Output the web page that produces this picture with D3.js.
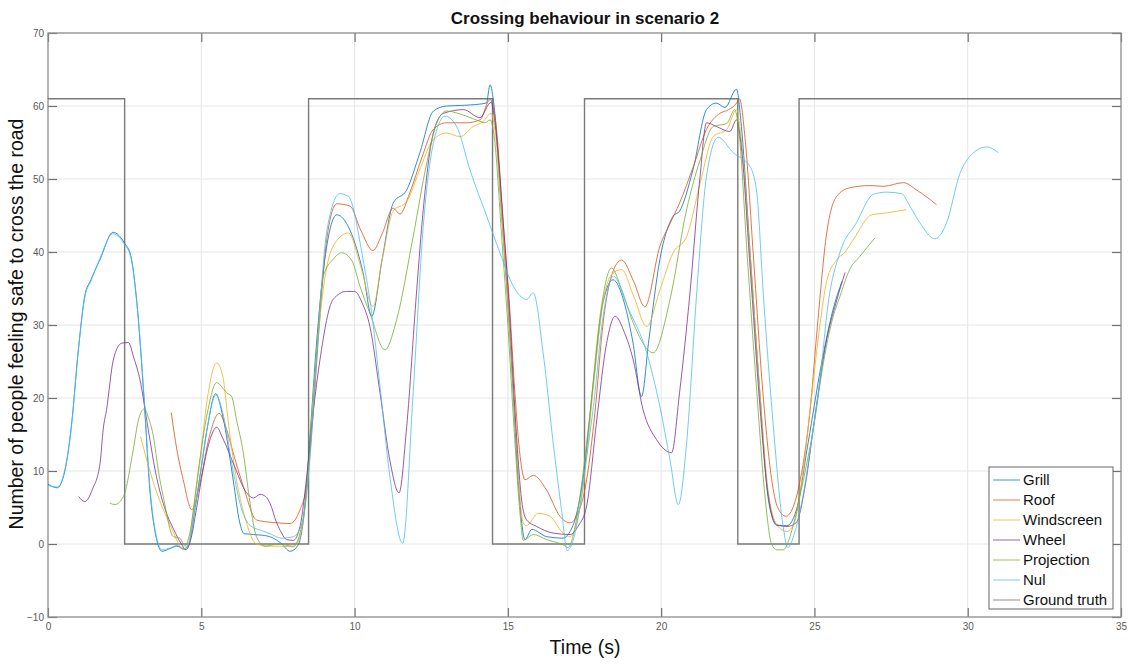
<!DOCTYPE html>
<html>
<head>
<meta charset="utf-8">
<script src="https://cdn.jsdelivr.net/npm/d3@7"></script>
<style>
  body { margin: 0; background: #fff; }
  svg { display: block; font-family: "Liberation Sans", Arial, Helvetica, sans-serif; }
</style>
</head>
<body>
<div id="chart"></div>
<script>
// series, [time (s), people]
const grill = [[0,8.2],[0.3,7.7],[0.55,10],[0.75,15.7],[1.0,27],[1.2,34],[1.4,36.2],[1.7,39],[2.12,42.7],[2.5,41.2],[2.7,39.5],[2.9,33],[3.13,20],[3.33,7],[3.5,1.5],[3.72,-1],[4.0,-0.6],[4.2,-0.3],[4.45,-0.7],[4.6,0],[4.8,5],[5.0,10.5],[5.2,16],[5.47,20.6],[5.7,17.5],[6.04,8.8],[6.25,3],[6.4,1.4],[7.0,1.2],[7.3,0.9],[7.6,0.1],[7.9,-1],[8.15,-0.2],[8.35,4],[8.55,15],[8.75,27],[9.0,38],[9.42,45.1],[9.85,43],[10.28,37.1],[10.56,31.2],[10.9,39],[11.26,46.7],[11.7,48.5],[12.13,53.6],[12.57,59.3],[13.0,60],[13.6,60.1],[14.3,60.4],[14.42,62.9],[14.55,60],[14.8,45],[15.0,33],[15.17,21],[15.35,8],[15.56,0.6],[15.78,2],[16.27,1],[16.8,0.8],[17.0,1.5],[17.2,3.5],[17.45,8.8],[17.8,22.5],[18.1,33],[18.43,36.2],[18.8,33],[19.08,27.6],[19.36,20.2],[19.6,28],[19.96,39],[20.39,44.9],[20.6,45.6],[21.04,51.3],[21.48,59.5],[21.8,60.4],[22.08,59.8],[22.46,62.3],[22.6,58],[22.9,40],[23.22,20.7],[23.5,6],[23.77,2.6],[24.1,2.5],[24.4,4.5],[24.8,14],[25.2,24],[25.6,32],[25.9,36]];

const roof = [[4.02,18],[4.2,13],[4.41,8.8],[4.69,4.7],[4.96,8.4],[5.25,14.5],[5.58,17.9],[5.8,16],[6.04,12.5],[6.37,7.9],[6.8,3.3],[7.2,3],[7.5,2.9],[7.9,2.8],[8.22,4.7],[8.44,8],[8.65,18],[8.85,30],[9.1,42],[9.42,46.6],[9.85,46.3],[10.2,43],[10.6,40.2],[10.9,42.5],[11.26,46],[11.48,45.2],[11.8,48.1],[12.2,53],[12.57,56.8],[13.0,57.7],[13.65,57.7],[14.09,58.1],[14.42,60.9],[14.6,58],[14.85,44],[15.05,33],[15.23,20.7],[15.4,12],[15.56,8.8],[15.83,9.4],[16.26,7.4],[16.7,3.8],[17.03,2.9],[17.24,3.8],[17.57,8.8],[17.84,18],[18.1,30],[18.4,37],[18.71,38.9],[19.1,36],[19.47,32.5],[19.96,40.8],[20.29,43.9],[20.6,46.7],[21.05,51.7],[21.48,56.8],[21.92,59],[22.2,59.5],[22.46,60.4],[22.55,61],[22.75,55],[23.0,40],[23.32,20.7],[23.6,9],[23.8,5],[24.07,3.8],[24.3,5],[24.52,8.4],[24.85,18],[25.1,30],[25.4,42.6],[25.72,47.6],[26.15,48.8],[26.8,49.1],[27.25,49],[27.9,49.5],[28.33,48.5],[28.98,46.5]];

const windscreen = [[3.02,14.7],[3.44,8.4],[3.76,4.7],[3.88,3.6],[4.1,1.5],[4.41,-0.8],[4.55,-0.5],[4.75,5],[4.95,11],[5.2,20],[5.5,24.8],[5.7,23],[5.9,16],[6.15,8.8],[6.4,4],[6.8,0],[7.2,-0.3],[7.6,-0.3],[8.0,-0.4],[8.25,1.5],[8.45,8],[8.65,20],[8.95,34],[9.3,40.8],[9.8,42.6],[10.2,38],[10.6,32.5],[10.9,39],[11.26,45.6],[11.7,46.9],[12.1,51],[12.57,55.4],[13.0,56.3],[13.44,55.8],[13.87,57.2],[14.2,57.9],[14.45,59],[14.6,56],[14.85,42],[15.05,30],[15.25,16],[15.4,6],[15.5,2.9],[15.6,2.5],[15.99,4.2],[16.37,3.8],[16.8,1.5],[17.03,1],[17.25,3],[17.46,7.9],[17.8,22],[18.1,33],[18.4,37],[18.71,37.6],[19.1,34],[19.53,29.8],[19.96,34.8],[20.39,39.9],[20.83,42.1],[21.27,49.4],[21.7,55.8],[22.14,56.8],[22.46,59.5],[22.6,56],[22.9,40],[23.2,22],[23.5,7],[23.8,2.5],[24.1,1.7],[24.35,3],[24.63,10],[24.9,20],[25.18,30],[25.4,36],[25.72,38.9],[26.0,40],[26.27,41.7],[26.87,45.1],[27.25,45.3],[28.0,45.8]];

const wheel = [[1.0,6.5],[1.2,5.8],[1.45,7.5],[1.7,11.1],[1.8,15.7],[1.91,18.4],[2.13,25.2],[2.4,27.5],[2.62,27.6],[2.8,25.5],[3.0,22.5],[3.27,15.7],[3.5,10],[3.8,5],[4.1,2],[4.35,0],[4.5,-0.8],[4.65,0.5],[4.85,5],[5.05,10],[5.3,14.5],[5.5,16],[5.7,14.5],[6.04,11.1],[6.48,7],[6.7,6.3],[6.92,6.8],[7.1,6.5],[7.24,5.6],[7.45,3],[7.62,1.5],[7.78,0.6],[8.0,0.5],[8.22,2.4],[8.44,9.3],[8.65,18],[8.87,25.2],[9.3,33.5],[9.74,34.6],[10.0,34.6],[10.25,33],[10.5,29.8],[10.83,20.7],[11.15,11.5],[11.45,7],[11.7,16.1],[12.02,34.4],[12.24,45.8],[12.57,56.3],[12.9,59],[13.55,59.5],[14.09,58.4],[14.45,60.5],[14.6,57],[14.85,44],[15.05,32],[15.25,17],[15.45,6],[15.61,3.3],[15.94,2.4],[16.47,1.5],[17.03,1.3],[17.3,2.5],[17.57,5.2],[17.9,17],[18.2,27],[18.5,31.2],[18.8,29],[19.09,25.2],[19.41,18.4],[19.85,14.3],[20.34,12.5],[20.6,20.7],[20.94,34.4],[21.27,50.4],[21.48,57.7],[21.8,57.2],[22.24,56.5],[22.46,58.1],[22.6,55],[22.9,38],[23.2,20],[23.45,8],[23.77,2.6],[24.1,2.4],[24.4,2.9],[24.7,8],[25.0,17],[25.4,28],[25.7,33],[26.0,37.2]];

const projection = [[2.02,5.6],[2.18,5.4],[2.46,6.5],[2.78,12.9],[2.95,17],[3.14,18.5],[3.3,17],[3.44,14.7],[3.6,10],[3.76,6.5],[4.09,1],[4.3,0.8],[4.47,-0.3],[4.65,2],[4.9,10],[5.2,18],[5.5,22.1],[5.83,20.7],[5.99,20.2],[6.15,17],[6.37,12.5],[6.59,5.6],[6.8,1],[7.08,-0.3],[7.5,0],[8.0,-0.3],[8.25,2],[8.45,8],[8.65,19],[8.98,36.7],[9.3,39],[9.58,39.9],[9.9,38.9],[10.2,35],[10.5,31.6],[10.99,26.6],[11.37,30.7],[11.91,42.1],[12.35,52.1],[12.68,57.7],[13.0,59.3],[13.65,58.6],[14.09,57.9],[14.25,57.7],[14.42,58.1],[14.55,56],[14.8,42],[15.0,30],[15.2,16],[15.4,4],[15.5,0.5],[15.83,1.3],[16.26,0.6],[16.8,-0.1],[16.97,-0.5],[17.15,1.5],[17.35,6.5],[17.68,18],[18.0,31],[18.38,37.8],[18.7,35],[19.09,30.3],[19.74,26.2],[20.29,33.5],[20.83,45.8],[21.27,52.6],[21.7,57.2],[22.14,57.6],[22.4,59.5],[22.55,56],[22.8,40],[23.1,22],[23.4,6],[23.6,0],[23.77,-0.8],[23.98,-0.8],[24.3,2.4],[24.6,8],[24.96,15.7],[25.3,25],[25.6,31],[25.83,33.9],[26.15,37.6],[26.48,39.4],[26.97,41.9]];

const nul = [[0,8.0],[0.3,7.8],[0.55,10.2],[0.75,15.5],[1.0,27],[1.2,33.8],[1.4,36],[1.7,39.2],[2.12,42.5],[2.5,41],[2.7,39.3],[2.9,33],[3.13,20.5],[3.33,7.5],[3.5,1.8],[3.72,-0.8],[4.0,-0.5],[4.2,-0.2],[4.45,-0.6],[4.6,0.2],[4.8,5.2],[5.0,10.5],[5.2,16],[5.47,20.4],[5.7,18],[6.04,10],[6.3,5],[6.6,2.5],[7.0,1.8],[7.3,1.3],[7.6,0.8],[8.0,1.0],[8.3,3],[8.55,12],[8.8,28],[9.1,43],[9.52,48],[9.8,47.6],[10.28,38.9],[10.56,31.6],[10.83,21.6],[11.15,9.3],[11.57,0.1],[11.91,20.7],[12.24,43.5],[12.57,54.9],[12.95,58.6],[13.33,57.2],[13.76,51.3],[14.31,44.9],[14.74,39.9],[15.18,35.3],[15.61,33.5],[15.83,34.4],[16.15,26.2],[16.48,13.8],[16.75,4.7],[16.94,-0.9],[17.24,2.4],[17.57,12],[17.79,18.8],[18.1,31],[18.44,36.7],[18.9,32.5],[19.53,26.2],[19.96,18.8],[20.29,11.5],[20.56,5.4],[20.83,13.8],[21.16,34.4],[21.48,50.4],[21.86,55.7],[22.35,53.6],[22.9,51.7],[23.12,48.1],[23.33,34.4],[23.66,16.1],[23.98,2.4],[24.13,-0.5],[24.35,1.5],[24.6,6],[24.9,14],[25.18,22.5],[25.45,33],[25.83,39.9],[26.37,44],[26.92,47.9],[27.35,48.2],[27.84,48.0],[28.11,46.3],[28.44,44],[28.93,41.8],[29.31,44],[29.75,50.8],[30.07,53.1],[30.62,54.4],[31.0,53.6]];

// ground truth as steps
const truthTimes = [0, 2.5, 8.5, 14.5, 17.5, 22.5, 24.5, 35];
const truthLevels = [61, 0, 61, 0, 61, 0, 61, 61];

const seriesNames = ["Grill", "Roof", "Windscreen", "Wheel", "Projection", "Nul", "Ground truth"];
const seriesColors = ["#0072BD", "#D95319", "#EDB120", "#7E2F8E", "#77AC30", "#4DBEEE", "#6b6b6b"];
const xTicks = [0, 5, 10, 15, 20, 25, 30, 35];
const yTicks = [-10, 0, 10, 20, 30, 40, 50, 60, 70];

const width = 1128, height = 664;
const margin = { top: 33, right: 7, bottom: 47, left: 48 };
const iw = width - margin.left - margin.right;
const ih = height - margin.top - margin.bottom;

const x = d3.scaleLinear().domain([0, 35]).range([0, iw]);
const y = d3.scaleLinear().domain([-10, 70]).range([ih, 0]);

const svg = d3.select("#chart").append("svg")
    .attr("width", width)
    .attr("height", height);

const g = svg.append("g")
    .attr("transform", `translate(${margin.left},${margin.top})`);

// grid
g.append("g")
    .selectAll("line")
    .data(xTicks.slice(1, -1))
    .join("line")
    .attr("x1", d => x(d)).attr("x2", d => x(d))
    .attr("y1", 0).attr("y2", ih)
    .attr("stroke", "#e6e6e6");

g.append("g")
    .selectAll("line")
    .data(yTicks.slice(1, -1))
    .join("line")
    .attr("x1", 0).attr("x2", iw)
    .attr("y1", d => y(d)).attr("y2", d => y(d))
    .attr("stroke", "#e6e6e6");

// axes, ticks pointing inwards on all four sides
const styleAxis = sel => {
    sel.select(".domain").remove();
    sel.selectAll(".tick line").attr("stroke", "#707070").attr("stroke-width", 1.2);
    sel.selectAll(".tick text").attr("fill", "#5a5a5a").style("font-size", "10px");
};

g.append("g")
    .attr("transform", `translate(0,${ih})`)
    .call(d3.axisBottom(x).tickValues(xTicks).tickSizeInner(-9).tickSizeOuter(0).tickPadding(6))
    .call(styleAxis);
g.append("g")
    .call(d3.axisTop(x).tickValues(xTicks).tickSizeInner(-9).tickSizeOuter(0).tickFormat(""))
    .call(styleAxis);
g.append("g")
    .call(d3.axisLeft(y).tickValues(yTicks).tickSizeInner(-9).tickSizeOuter(0).tickPadding(4))
    .call(styleAxis);
g.append("g")
    .attr("transform", `translate(${iw},0)`)
    .call(d3.axisRight(y).tickValues(yTicks).tickSizeInner(-9).tickSizeOuter(0).tickFormat(""))
    .call(styleAxis);

g.append("rect")
    .attr("width", iw).attr("height", ih)
    .attr("fill", "none")
    .attr("stroke", "#8c8c8c")
    .attr("stroke-width", 1.3);

svg.append("clipPath").attr("id", "plot-clip")
    .append("rect").attr("width", iw).attr("height", ih);

const plot = g.append("g").attr("clip-path", "url(#plot-clip)");

const line = d3.line()
    .x(d => x(d[0]))
    .y(d => y(d[1]))
    .curve(d3.curveMonotoneX);

const allSeries = [grill, roof, windscreen, wheel, projection, nul];

// ground truth underneath the series
const truth = truthTimes.map((t, i) => [t, truthLevels[i]]);
plot.append("path")
    .datum(truth)
    .attr("fill", "none")
    .attr("stroke", seriesColors[6])
    .attr("stroke-opacity", 0.9)
    .attr("stroke-width", 1.4)
    .attr("d", d3.line().x(d => x(d[0])).y(d => y(d[1])).curve(d3.curveStepAfter));

plot.selectAll("path.series")
    .data(allSeries)
    .join("path")
    .attr("class", "series")
    .attr("fill", "none")
    .attr("stroke", (d, i) => seriesColors[i])
    .attr("stroke-width", 1)
    .attr("stroke-opacity", 0.8)
    .attr("d", line);

// legend
const legend = svg.append("g").attr("transform", "translate(989,467)");
legend.append("rect")
    .attr("width", 124).attr("height", 142)
    .attr("fill", "#fff")
    .attr("stroke", "#666")
    .attr("stroke-width", 1);

const item = legend.selectAll("g.item")
    .data(seriesNames)
    .join("g")
    .attr("class", "item")
    .attr("transform", (d, i) => `translate(0,${13 + i * 20})`);

item.append("line")
    .attr("x1", 4).attr("x2", 31)
    .attr("stroke", (d, i) => seriesColors[i])
    .attr("stroke-opacity", 0.75)
    .attr("stroke-width", 1);

item.append("text")
    .attr("x", 34)
    .attr("dy", "0.36em")
    .attr("fill", "#111")
    .style("font-size", "15px")
    .text(d => d);

// titles
svg.append("text")
    .attr("x", 585).attr("y", 24)
    .attr("text-anchor", "middle")
    .style("font-size", "17px")
    .style("font-weight", "bold")
    .attr("fill", "#111")
    .text("Crossing behaviour in scenario 2");

svg.append("text")
    .attr("x", 585).attr("y", 654)
    .attr("text-anchor", "middle")
    .style("font-size", "19.5px")
    .attr("fill", "#111")
    .text("Time (s)");

svg.append("text")
    .attr("transform", "translate(23,324) rotate(-90)")
    .attr("text-anchor", "middle")
    .style("font-size", "19.5px")
    .attr("fill", "#111")
    .text("Number of people feeling safe to cross the road");
</script>
</body>
</html>
